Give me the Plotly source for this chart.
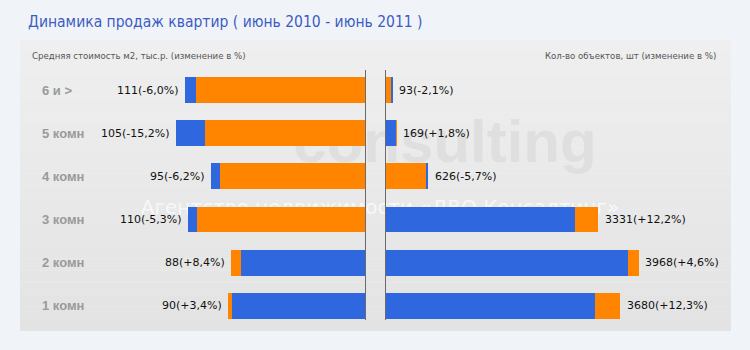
import plotly.graph_objects as go

# Room types, top to bottom
categories = ["6 и >", "5 комн", "4 комн", "3 комн", "2 комн", "1 комн"]
# Average price per m2, thousand rub., and change in %
price = [111, 105, 95, 110, 88, 90]
price_chg = [-6.0, -15.2, -6.2, -5.3, 8.4, 3.4]
# Number of listings and change in %
count = [93, 169, 626, 3331, 3968, 3680]
count_chg = [-2.1, 1.8, -5.7, 12.2, 4.6, 12.3]

title = "Динамика продаж квартир ( июнь 2010 - июнь 2011 )"
left_caption = "Средняя стоимость м2, тыс.р. (изменение в %)"
right_caption = "Кол-во объектов, шт (изменение в %)"

BLUE = "#2F67DE"
ORANGE = "#FF8400"
W, H = 750, 350

ypos = list(range(len(categories) - 1, -1, -1))


def split(values, changes):
    """Inner segment = smaller of the two periods, outer = the difference."""
    inner, outer, ci, co, total = [], [], [], [], []
    for v, p in zip(values, changes):
        prev = v / (1 + p / 100.0)
        inner.append(min(v, prev))
        outer.append(abs(v - prev))
        total.append(max(v, prev))
        if p >= 0:
            ci.append(BLUE)
            co.append(ORANGE)
        else:
            ci.append(ORANGE)
            co.append(BLUE)
    return inner, outer, ci, co, total


def fmt(v, p):
    s = f"{p:+.1f}".replace(".", ",")
    return f"{v}({s}%)"


pi, po, pci, pco, ptot = split(price, price_chg)
ci_, co_, cci, cco, ctot = split(count, count_chg)

fig = go.Figure()
common = dict(orientation="h", width=0.6, hoverinfo="skip", showlegend=False,
              marker_line_width=0)
fig.add_trace(go.Bar(x=pi, y=ypos, marker_color=pci, xaxis="x", yaxis="y", **common))
fig.add_trace(go.Bar(x=po, y=ypos, marker_color=pco, xaxis="x", yaxis="y", **common))
fig.add_trace(go.Bar(x=ci_, y=ypos, marker_color=cci, xaxis="x2", yaxis="y2", **common))
fig.add_trace(go.Bar(x=co_, y=ypos, marker_color=cco, xaxis="x2", yaxis="y2", **common))

# pixel geometry of the panels
panel_x0, panel_x1, panel_y0, panel_y1 = 20, 731, 40, 331
lx0, lx1 = 20, 365.5
rx0, rx1 = 385.5, 731
left_scale = 1.53      # px per thousand rub.
right_scale = 0.0637   # px per listing
yr = [-0.6, 5.6]
ybot_px, ytop_px = 331.9, 64.1

ax_common = dict(showgrid=False, zeroline=False, showticklabels=False,
                 showline=False, ticks="", fixedrange=True)
fig.update_layout(
    width=W, height=H,
    margin=dict(l=0, r=0, t=0, b=0),
    paper_bgcolor="#F0F4F9",
    plot_bgcolor="rgba(0,0,0,0)",
    barmode="stack",
    bargap=0,
    xaxis=dict(domain=[lx0 / W, lx1 / W], range=[(lx1 - lx0) / left_scale, 0], **ax_common),
    xaxis2=dict(domain=[rx0 / W, rx1 / W], range=[0, (rx1 - rx0) / right_scale], **ax_common),
    yaxis=dict(domain=[1 - ybot_px / H, 1 - ytop_px / H], range=yr, anchor="x", **ax_common),
    yaxis2=dict(domain=[1 - ybot_px / H, 1 - ytop_px / H], range=yr, anchor="x2", **ax_common),
)

shapes = []
# grey panel with a soft vertical gradient
top_c = (239, 239, 239)
bot_c = (227, 227, 227)
n = 24
for i in range(n):
    t = i / (n - 1)
    c = tuple(round(a + (b - a) * t) for a, b in zip(top_c, bot_c))
    y0 = panel_y0 + (panel_y1 - panel_y0) * i / n
    y1 = panel_y0 + (panel_y1 - panel_y0) * (i + 1) / n
    shapes.append(dict(type="rect", xref="paper", yref="paper", layer="below",
                       x0=panel_x0 / W, x1=panel_x1 / W, y0=1 - y1 / H, y1=1 - y0 / H,
                       fillcolor="rgb(%d,%d,%d)" % c, line_width=0))

# faint brand watermark behind the bars
shapes.append(dict(type="rect", xref="paper", yref="paper", layer="below",
                   x0=280 / W, x1=610 / W, y0=1 - 172 / H, y1=1 - 98 / H,
                   fillcolor="rgba(0,0,0,0)", line_width=0,
                   label=dict(text="<b>consulting</b>", textposition="middle center",
                              font=dict(family="Liberation Sans", size=60, color="#DFDFDF"))))
shapes.append(dict(type="rect", xref="paper", yref="paper", layer="below",
                   x0=120 / W, x1=640 / W, y0=1 - 216 / H, y1=1 - 196 / H,
                   fillcolor="rgba(0,0,0,0)", line_width=0,
                   label=dict(text="Агентство недвижимости «ДВО Консалтинг»",
                              textposition="middle center",
                              font=dict(family="DejaVu Sans", size=20, color="rgba(255,255,255,0.7)"))))

# centre axis lines
for xp in (365.5, 385.5):
    shapes.append(dict(type="line", xref="paper", yref="paper", layer="above",
                       x0=xp / W, x1=xp / W, y0=1 - 320 / H, y1=1 - 70 / H,
                       line=dict(color="#6A6A6A", width=1)))
fig.update_layout(shapes=shapes)

ann = []
ann.append(dict(text=title, xref="paper", yref="paper", x=26 / W, y=1 - 22 / H,
                xanchor="left", yanchor="middle", showarrow=False,
                font=dict(family="DejaVu Sans Condensed, Liberation Sans", size=15.5,
                          weight=500, color="#3D5CC2")))
ann.append(dict(text=left_caption, xref="paper", yref="paper", x=30 / W, y=1 - 56 / H,
                xanchor="left", yanchor="middle", showarrow=False,
                font=dict(family="DejaVu Sans", size=8.6, color="#555555")))
ann.append(dict(text=right_caption, xref="paper", yref="paper", x=718 / W, y=1 - 56 / H,
                xanchor="right", yanchor="middle", showarrow=False,
                font=dict(family="DejaVu Sans", size=8.6, color="#555555")))

for cat, yv in zip(categories, ypos):
    ann.append(dict(text="<b>%s</b>" % cat, xref="paper", yref="y", x=40 / W, y=yv,
                    xanchor="left", yanchor="middle", showarrow=False,
                    font=dict(family="Liberation Sans", size=13, color="#9A9A9A")))

for v, p, tot, yv in zip(price, price_chg, ptot, ypos):
    ann.append(dict(text=fmt(v, p), xref="x", yref="y", x=tot, y=yv,
                    xanchor="right", yanchor="middle", xshift=-4, showarrow=False,
                    font=dict(family="DejaVu Sans", size=11, color="#111111")))
for v, p, tot, yv in zip(count, count_chg, ctot, ypos):
    ann.append(dict(text=fmt(v, p), xref="x2", yref="y2", x=tot, y=yv,
                    xanchor="left", yanchor="middle", xshift=5, showarrow=False,
                    font=dict(family="DejaVu Sans", size=11, color="#111111")))
fig.update_layout(annotations=ann)

fig.write_html("out.html")
